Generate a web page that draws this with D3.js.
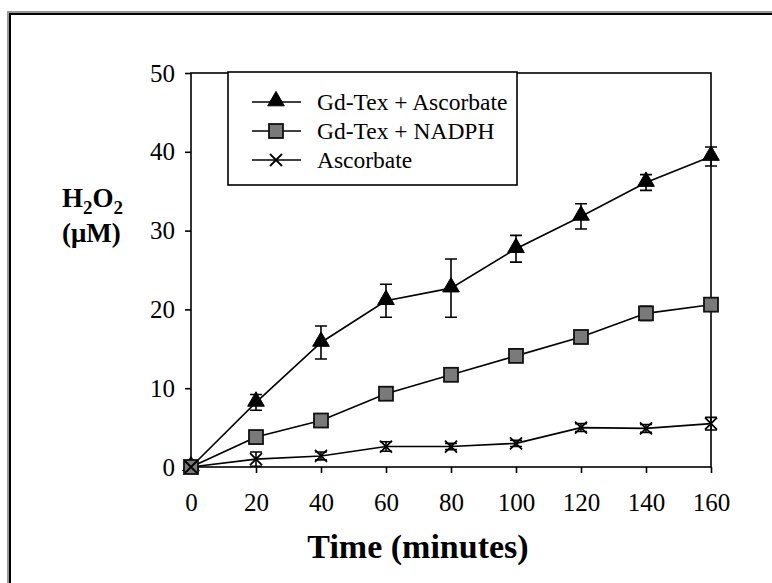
<!DOCTYPE html>
<html>
<head>
<meta charset="utf-8">
<script src="https://cdn.jsdelivr.net/npm/d3@7"></script>
<style>
  body { margin: 0; background: #fff; }
  svg { display: block; font-family: "Liberation Serif", "Times New Roman", serif; }
</style>
</head>
<body>
<svg id="chart" width="772" height="583"></svg>
<script>
/* --- data --- */
var times = [0, 20, 40, 60, 80, 100, 120, 140, 160];
var gdAsc = [0, 8.2, 15.8, 21.1, 22.7, 27.7, 31.8, 36.1, 39.4];
var gdAscErr = [0, 1.0, 2.1, 2.1, 3.7, 1.7, 1.6, 1.0, 1.2];
var gdNadph = [0, 3.8, 5.9, 9.3, 11.7, 14.1, 16.5, 19.5, 20.6];
var gdNadphErr = [0, 0.4, 0.5, 0.5, 0.5, 0.5, 0.6, 0.9, 0.6];
var asc = [0, 1.0, 1.4, 2.6, 2.6, 3.0, 5.0, 4.9, 5.5];
var ascErr = [0, 0.9, 0.5, 0.6, 0.4, 0.4, 0.5, 0.5, 0.8];
var seriesNames = ["Gd-Tex + Ascorbate", "Gd-Tex + NADPH", "Ascorbate"];
var xTicks = [0, 20, 40, 60, 80, 100, 120, 140, 160];
var yTicks = [0, 10, 20, 30, 40, 50];

var series = [
  {name: seriesNames[0], vals: gdAsc, err: gdAscErr, marker: "triangle"},
  {name: seriesNames[1], vals: gdNadph, err: gdNadphErr, marker: "square"},
  {name: seriesNames[2], vals: asc, err: ascErr, marker: "cross"}
];

var svg = d3.select("#chart");
var x = d3.scaleLinear([0, 160], [191, 711]);
var y = d3.scaleLinear([0, 50], [467, 73]);

// outer frame (only top and left visible)
svg.append("path")
  .attr("d", "M9,583 V13 H772")
  .attr("fill", "none").attr("stroke", "#999").attr("stroke-width", 4);
svg.append("path")
  .attr("d", "M10,583 V14 H772")
  .attr("fill", "none").attr("stroke", "#000").attr("stroke-width", 2);

// plot box
svg.append("rect")
  .attr("x", x(0)).attr("y", y(50))
  .attr("width", x(160) - x(0)).attr("height", y(0) - y(50))
  .attr("fill", "none").attr("stroke", "#000").attr("stroke-width", 1.6);

// axes
var yAxis = svg.append("g")
  .attr("transform", "translate(" + x(0) + ",0)")
  .call(d3.axisLeft(y).tickValues(yTicks).tickSize(6).tickSizeOuter(0).tickPadding(10));
var xAxis = svg.append("g")
  .attr("transform", "translate(0," + y(0) + ")")
  .call(d3.axisBottom(x).tickValues(xTicks).tickSize(6).tickSizeOuter(0).tickPadding(20));
[xAxis, yAxis].forEach(function(a){
  a.select(".domain").remove();
  a.selectAll("line").attr("stroke", "#000").attr("stroke-width", 1.6);
  a.selectAll("text").attr("fill", "#000")
    .style("font-family", "'Liberation Serif', serif").style("font-size", "25px");
});

// axis titles
svg.append("text")
  .attr("x", 418).attr("y", 558)
  .attr("text-anchor", "middle")
  .style("font-weight", "bold").style("font-size", "34px")
  .text("Time (minutes)");

var h2o2 = svg.append("text")
  .attr("x", 62).attr("y", 207)
  .style("font-weight", "bold").style("font-size", "27px");
h2o2.append("tspan").text("H");
h2o2.append("tspan").attr("dy", 7).style("font-size", "19px").text("2");
h2o2.append("tspan").attr("dy", -7).text("O");
h2o2.append("tspan").attr("dy", 7).style("font-size", "19px").text("2");

svg.append("text")
  .attr("x", 62).attr("y", 242)
  .style("font-weight", "bold").style("font-size", "27px")
  .text("(\u03bcM)");

// marker drawing
function drawMarker(g, kind, cx, cy) {
  if (kind == "triangle") {
    g.append("path")
      .attr("d", d3.symbol(d3.symbolTriangle, 120)())
      .attr("transform", "translate(" + cx + "," + (cy - 1) + ")")
      .attr("fill", "#000").attr("stroke", "#000").attr("stroke-width", 1);
  } else if (kind == "square") {
    g.append("rect")
      .attr("x", cx - 7).attr("y", cy - 7).attr("width", 14).attr("height", 14)
      .attr("fill", "#7a7a7a").attr("stroke", "#111").attr("stroke-width", 1.8);
  } else {
    g.append("path")
      .attr("d", "M" + (cx - 6) + "," + (cy - 6) + "L" + (cx + 6) + "," + (cy + 6) +
                 "M" + (cx - 6) + "," + (cy + 6) + "L" + (cx + 6) + "," + (cy - 6))
      .attr("stroke", "#000").attr("stroke-width", 1.8);
  }
}

var line = d3.line().x(function(d){ return x(d[0]); }).y(function(d){ return y(d[1]); });

var plot = svg.append("g");
series.forEach(function(s){
  var pts = times.map(function(t, i){ return [t, s.vals[i]]; });
  plot.append("path")
    .attr("d", line(pts))
    .attr("fill", "none").attr("stroke", "#000").attr("stroke-width", 1.6);
});

// error bars
series.forEach(function(s){
  times.forEach(function(t, i){
    if (!s.err[i]) return;
    var cx = x(t), y1 = y(s.vals[i] + s.err[i]), y2 = y(s.vals[i] - s.err[i]);
    plot.append("path")
      .attr("d", "M" + cx + "," + y1 + "V" + y2 +
                 "M" + (cx - 6) + "," + y1 + "H" + (cx + 6) +
                 "M" + (cx - 6) + "," + y2 + "H" + (cx + 6))
      .attr("fill", "none").attr("stroke", "#000").attr("stroke-width", 1.6);
  });
});

series.forEach(function(s){
  times.forEach(function(t, i){
    drawMarker(plot, s.marker, x(t), y(s.vals[i]));
  });
});

// legend
var lg = svg.append("g");
lg.append("rect")
  .attr("x", 228).attr("y", 72).attr("width", 289).attr("height", 113)
  .attr("fill", "#fff").attr("stroke", "#000").attr("stroke-width", 1.6);
var rowY = [102, 131, 160];
series.forEach(function(s, i){
  lg.append("line")
    .attr("x1", 252).attr("x2", 301).attr("y1", rowY[i]).attr("y2", rowY[i])
    .attr("stroke", "#000").attr("stroke-width", 1.6);
  drawMarker(lg, s.marker, 276, rowY[i]);
  lg.append("text")
    .attr("x", 317).attr("y", rowY[i] + 8)
    .style("font-size", "23.5px")
    .text(s.name);
});
</script>
</body>
</html>
